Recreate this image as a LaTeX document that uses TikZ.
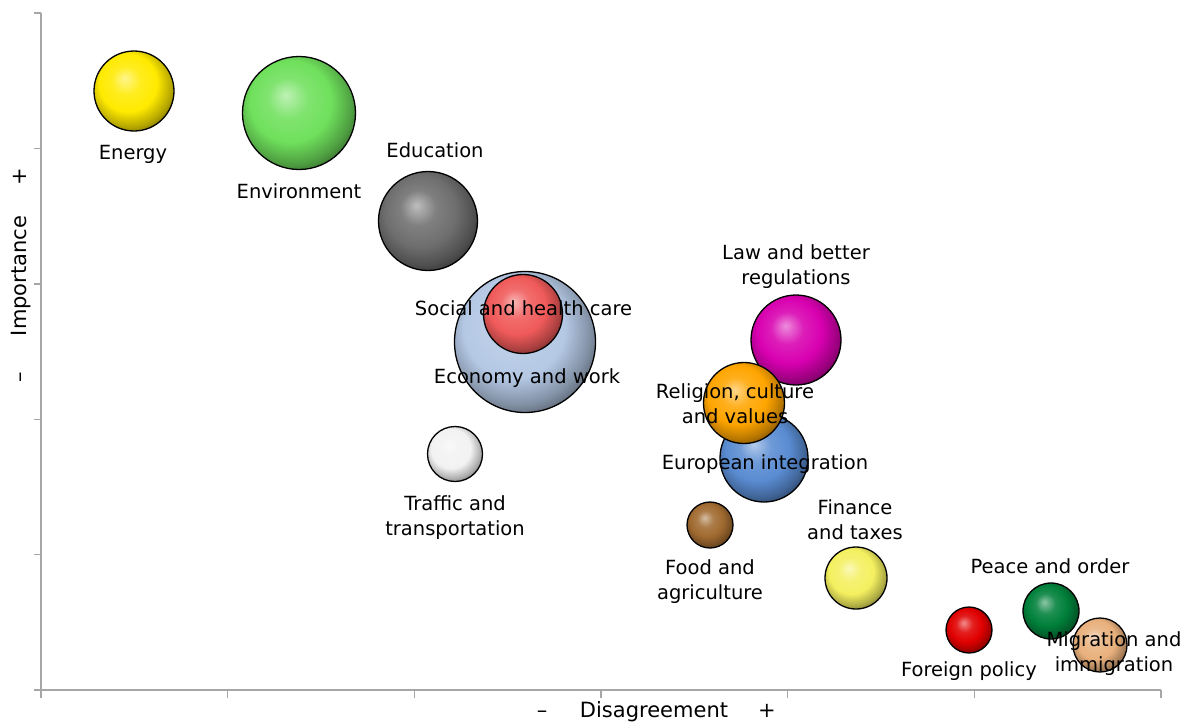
\documentclass[tikz,border=0pt]{standalone}
\usepackage{fontspec}
\setmainfont{DejaVu Sans}
\makeatletter
\pgfdeclareradialshading[tikz@ball]{sphere}{\pgfpoint{-6bp}{8bp}}{%
 color(0bp)=(tikz@ball!45!white);
 color(9bp)=(tikz@ball!88!white);
 color(18bp)=(tikz@ball);
 color(26bp)=(tikz@ball!72!black);
 color(32bp)=(tikz@ball!42!black);
 color(50bp)=(tikz@ball!42!black)}
\makeatother
\definecolor{axisgray}{HTML}{A6A6A6}
\definecolor{cEnergy}{HTML}{FFEA00}
\definecolor{cEnv}{HTML}{6FE05C}
\definecolor{cEdu}{HTML}{6E6E6E}
\definecolor{cEcon}{HTML}{B4C8E4}
\definecolor{cSocial}{HTML}{F05A5A}
\definecolor{cTraffic}{HTML}{F2F2F2}
\definecolor{cLaw}{HTML}{D800B0}
\definecolor{cReligion}{HTML}{FFA500}
\definecolor{cEU}{HTML}{5A8CD2}
\definecolor{cFood}{HTML}{A06A30}
\definecolor{cFinance}{HTML}{F4F060}
\definecolor{cForeign}{HTML}{E00000}
\definecolor{cPeace}{HTML}{00803A}
\definecolor{cMig}{HTML}{E8B07C}
\begin{document}
\begin{tikzpicture}[x=1pt,y=-1pt,
  bubble/.style={circle, draw=black, line width=1.3pt, inner sep=0pt,
    ball color=#1, shading=sphere},
  lbl/.style={font=\fontsize{19.5}{25}\selectfont, align=center, inner sep=0pt, anchor=base},
  axlbl/.style={font=\fontsize{21}{25}\selectfont, inner sep=0pt, anchor=base},
  axisline/.style={draw=axisgray, line width=1.4pt}]
\useasboundingbox (0,0) rectangle (1190,724);
% axes
\draw[axisline] (41,13) -- (41,698);
\draw[axisline] (34,690) -- (1161,690);
\foreach \yy in {13,148.4,283.8,419.2,554.6} \draw[axisline] (34,\yy) -- (41,\yy);
\foreach \xx in {227.7,414.3,601,787.7,974.3,1161} \draw[axisline] (\xx,690) -- (\xx,698);
% bubbles
\node[bubble=cEcon, minimum size=141pt] (econ) at (525,342) {};
\node[bubble=cEnv, minimum size=113pt] (env) at (299,113) {};
\node[bubble=cEdu, minimum size=99pt] (edu) at (428,221) {};
\node[bubble=cLaw, minimum size=90pt] (law) at (796,340) {};
\node[bubble=cEU, minimum size=88pt] (eu) at (764,458) {};
\node[bubble=cEnergy, minimum size=80pt] (energy) at (134,91) {};
\node[bubble=cSocial, minimum size=79pt] (social) at (523,314) {};
\node[bubble=cReligion, minimum size=81pt] (religion) at (744,403) {};
\node[bubble=cFinance, minimum size=62pt] (finance) at (856,578) {};
\node[bubble=cTraffic, minimum size=55pt] (traffic) at (455,454) {};
\node[bubble=cFood, minimum size=46pt] (food) at (710,525) {};
\node[bubble=cForeign, minimum size=46pt] (foreign) at (969,630) {};
\node[bubble=cPeace, minimum size=56pt] (peace) at (1051,611) {};
\node[bubble=cMig, minimum size=54pt] (mig) at (1100,645) {};
% labels (anchor = baseline of the last line)
\node[lbl] (energyL) at (133,159) {Energy};
\node[lbl] (envL) at (299,198) {Environment};
\node[lbl] (eduL) at (435,157) {Education};
\node[lbl] (socialL) at (523.5,315) {Social and health care};
\node[lbl] (econL) at (527,383) {Economy and work};
\node[lbl] (trafficL) at (455,535) {Traffic and\\transportation};
\node[lbl] (lawL) at (796,284) {Law and better\\regulations};
\node[lbl] (religionL) at (735,423) {Religion, culture\\and values};
\node[lbl] (euL) at (765,469) {European integration};
\node[lbl] (foodL) at (710,599) {Food and\\agriculture};
\node[lbl] (financeL) at (855,539) {Finance\\and taxes};
\node[lbl] (peaceL) at (1050,573) {Peace and order};
\node[lbl] (foreignL) at (969,676) {Foreign policy};
\node[lbl] (migL) at (1114,671) {Migration and\\immigration};
% axis titles
\node[axlbl] (xminus) at (542,717) {–};
\node[axlbl] (xtitle) at (654,717) {Disagreement};
\node[axlbl] (xplus) at (767,717) {+};
\node[axlbl, rotate=90] (yminus) at (27,377) {–};
\node[axlbl, rotate=90] (ytitle) at (27,276) {Importance};
\node[axlbl, rotate=90] (yplus) at (27,177) {+};
\end{tikzpicture}
\end{document}
